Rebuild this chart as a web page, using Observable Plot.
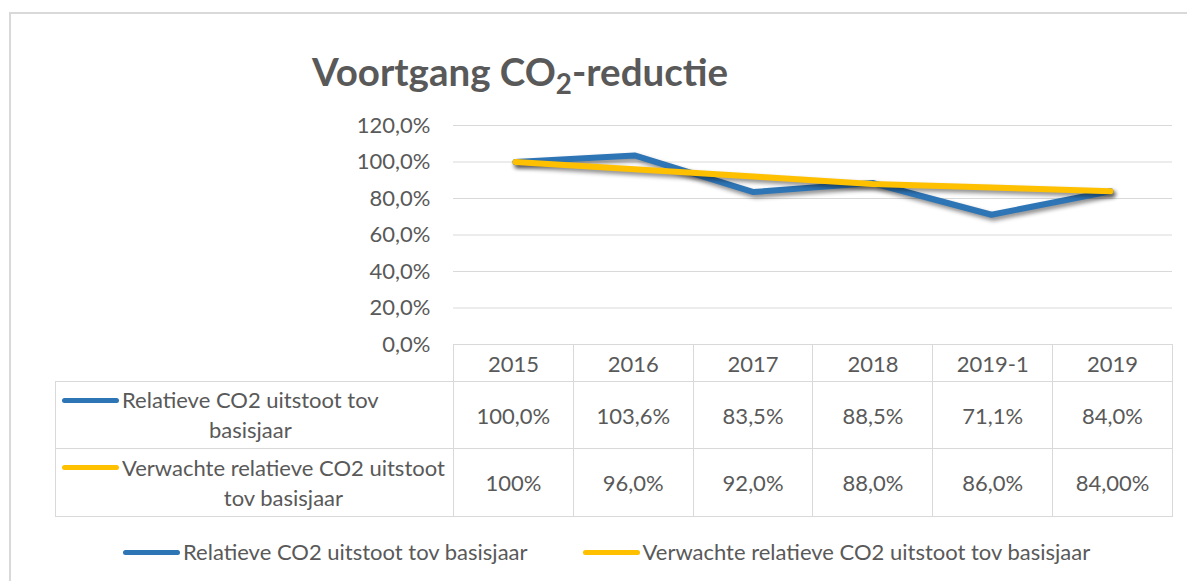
<!DOCTYPE html>
<html>
<head>
<meta charset="utf-8">
<script src="https://cdn.jsdelivr.net/npm/d3@7"></script>
<script src="https://cdn.jsdelivr.net/npm/@observablehq/plot@0.6"></script>
<style>
  html, body { margin: 0; padding: 0; background: #fff; }
  #wrap { position: relative; width: 1187px; height: 581px; overflow: hidden; font-family: Lato, "Open Sans", sans-serif; color: #595959; }
  #frame { position: absolute; left: 9px; top: 12px; right: -10px; bottom: -10px; border-top: 2px solid #d9d9d9; border-left: 2px solid #d9d9d9; }
  #title { position: absolute; left: 312px; top: 52px; font-size: 38.5px; font-weight: 700; line-height: 1; white-space: nowrap; color: #595959; }
  #title sub { font-size: 0.72em; vertical-align: -0.28em; line-height: 0; }
  #chart { position: absolute; left: 0; top: 110px; }
  #chart g[aria-label="line"] { filter: drop-shadow(2px 3px 2px rgba(0,0,0,0.45)); }
  #table { position: absolute; left: 55px; top: 344px; border-collapse: collapse; table-layout: fixed; font-size: 22px; }
  #table td { border: 1px solid #d9d9d9; text-align: center; vertical-align: middle; padding: 0; color: #595959; }
  #table td.empty { border-top: none; border-left: none; }
  .rowhead { display: flex; align-items: flex-start; padding-left: 6px; }
  .swcol { height: 30px; display: flex; align-items: center; margin-right: 3px; }
  .sw { width: 57px; height: 5px; border-radius: 3px; }
  .lines { width: max-content; text-align: center; line-height: 30px; }
  #legend { position: absolute; left: 123px; top: 538px; display: flex; gap: 55px; font-size: 22px; line-height: 28px; }
  .li { display: flex; align-items: center; }
  .li .sw { margin-right: 3px; }
</style>
</head>
<body>
<div id="wrap">
  <div id="frame"></div>
  <div id="title"></div>
  <div id="chart"></div>
  <table id="table"></table>
  <div id="legend"></div>
</div>
<script>
// ---- data ----
const categories = ["2015", "2016", "2017", "2018", "2019-1", "2019"];
const actualValues = [100, 103.6, 83.5, 88.5, 71.1, 84.0];
const expectedValues = [100, 96, 92, 88, 86, 84];
const actualLabels = ["100,0%", "103,6%", "83,5%", "88,5%", "71,1%", "84,0%"];
const expectedLabels = ["100%", "96,0%", "92,0%", "88,0%", "86,0%", "84,00%"];
const seriesNames = ["Relatieve CO2 uitstoot tov basisjaar", "Verwachte relatieve CO2 uitstoot tov basisjaar"];
const yTicks = [0, 20, 40, 60, 80, 100, 120];
const titleParts = ["Voortgang CO", "2", "-reductie"];

// ---- styles ----
const colors = ["#2E75B6", "#FFC000"];
const fontFamily = "Lato, 'Open Sans', sans-serif";
const fontSize = 22;

const seriesValues = [actualValues, expectedValues];
const seriesLabels = [actualLabels, expectedLabels];
const rows = seriesNames.flatMap((name, s) =>
  categories.map((c, i) => ({series: name, cat: c, value: seriesValues[s][i]})));

// title
const title = document.getElementById("title");
title.append(titleParts[0]);
const sub = document.createElement("sub"); sub.textContent = titleParts[1]; title.append(sub);
title.append(titleParts[2]);

// chart
const chart = Plot.plot({
  width: 1187,
  height: 240,
  marginTop: 15,
  marginBottom: 6,
  marginLeft: 453,
  marginRight: 15,
  style: {fontFamily, fontSize: fontSize + "px", color: "#595959", background: "transparent", overflow: "visible"},
  x: {type: "point", domain: categories, padding: 0.5, axis: null},
  y: {domain: [0, 120], ticks: yTicks, tickSize: 0, tickPadding: 23, label: null,
      tickFormat: d => d.toFixed(1).replace(".", ",") + "%"},
  marks: [
    Plot.ruleY(yTicks, {stroke: "#d9d9d9", strokeWidth: 1}),
    ...seriesNames.map((name, s) => Plot.lineY(rows.filter(r => r.series === name), {
      x: "cat", y: "value", stroke: colors[s], strokeWidth: 6,
      strokeLinecap: "round", strokeLinejoin: "round"
    }))
  ]
});
document.getElementById("chart").append(chart);

// data table aligned with the x scale
const xs = chart.scale("x");
const [r0, r1] = xs.range;
const pad = xs.padding ?? 0.5;
const step = (r1 - r0) / (categories.length - 1 + 2 * pad);
const bandLeft = r0 + pad * step - step / 2;
const tableLeft = 55;
const firstColW = bandLeft - tableLeft;
const table = document.getElementById("table");
const cg = document.createElement("colgroup");
[firstColW, ...categories.map(() => step)].forEach(w => {
  const col = document.createElement("col"); col.style.width = w + "px"; cg.append(col);
});
table.append(cg);
table.style.width = (firstColW + step * categories.length) + "px";

const hr = table.insertRow();
const e = hr.insertCell(); e.className = "empty";
hr.style.height = "37px";
categories.forEach(c => { const td = hr.insertCell(); td.textContent = c; });

const canvas = document.createElement("canvas");
const ctx = canvas.getContext("2d");
ctx.font = fontSize + "px " + fontFamily;
function wrap(text, maxW) {
  const words = text.split(" ");
  const lines = []; let cur = "";
  for (const w of words) {
    const t = cur ? cur + " " + w : w;
    if (cur && ctx.measureText(t).width > maxW) { lines.push(cur); cur = w; } else cur = t;
  }
  if (cur) lines.push(cur);
  return lines;
}
const rowHeights = [67, 68];
seriesNames.forEach((name, s) => {
  const tr = table.insertRow();
  tr.style.height = rowHeights[s] + "px";
  const th = tr.insertCell();
  const box = document.createElement("div"); box.className = "rowhead";
  const swc = document.createElement("div"); swc.className = "swcol";
  const sw = document.createElement("div"); sw.className = "sw"; sw.style.background = colors[s];
  swc.append(sw); box.append(swc);
  const lines = document.createElement("div"); lines.className = "lines";
  wrap(name, firstColW - 6 - 57 - 3).forEach(l => { const d = document.createElement("div"); d.textContent = l; lines.append(d); });
  box.append(lines); th.append(box);
  seriesLabels[s].forEach(l => { const td = tr.insertCell(); td.textContent = l; });
});

// legend
const legend = document.getElementById("legend");
seriesNames.forEach((name, s) => {
  const it = document.createElement("div"); it.className = "li";
  const sw = document.createElement("div"); sw.className = "sw"; sw.style.background = colors[s];
  const tx = document.createElement("span"); tx.textContent = name;
  it.append(sw, tx); legend.append(it);
});
</script>
</body>
</html>
